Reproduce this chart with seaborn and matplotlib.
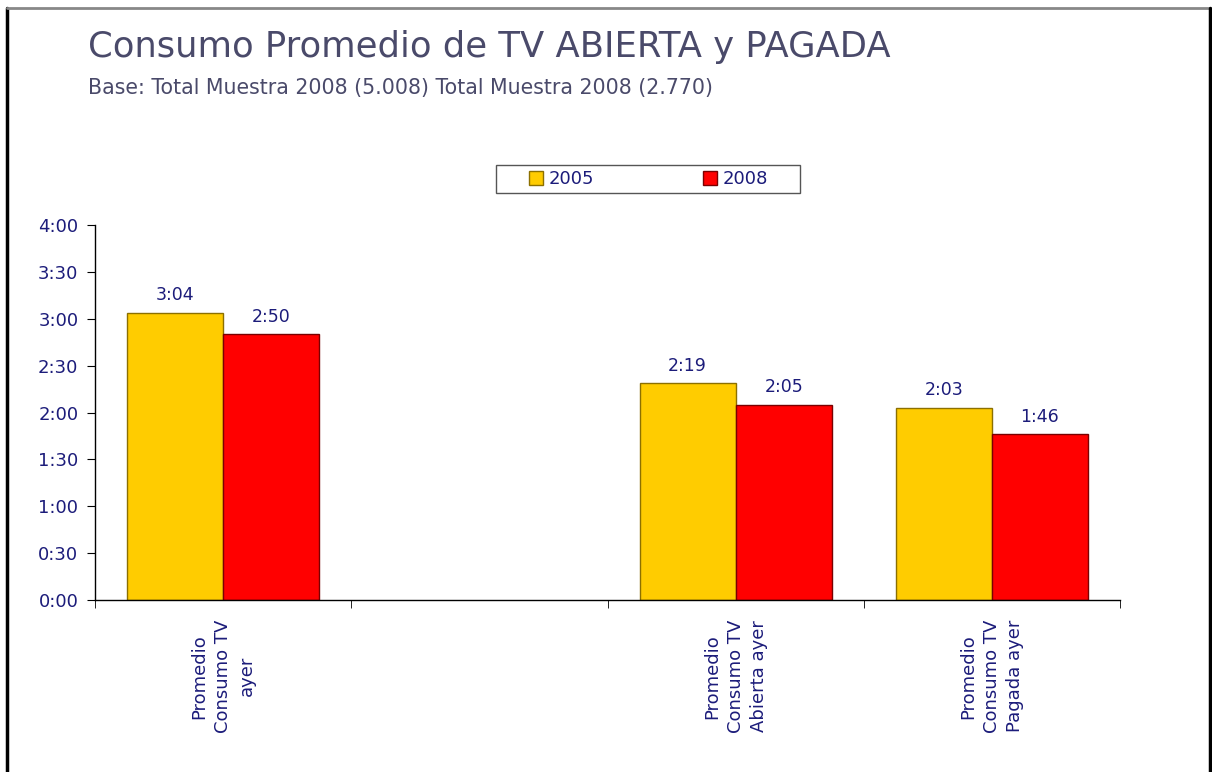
import matplotlib
matplotlib.use("Agg")
import matplotlib.pyplot as plt
import matplotlib.ticker as mticker
from matplotlib.lines import Line2D
from matplotlib.patches import Patch, Rectangle
import pandas as pd
import seaborn as sns

# Chart data (minutes)
categories = [
    "Promedio\nConsumo TV\nayer",
    "",
    "Promedio\nConsumo TV\nAbierta ayer",
    "Promedio\nConsumo TV\nPagada ayer",
]
years = ["2005", "2008"]
minutes_2005 = [184, None, 139, 123]
minutes_2008 = [170, None, 125, 106]

colors = {"2005": "#FFCC00", "2008": "#FF0000"}
edges = {"2005": "#8C7000", "2008": "#7A0000"}
navy = "#1C1C7A"


def fmt_min(v, pos=None):
    v = int(round(v))
    return f"{v // 60}:{v % 60:02d}"


def main():
    rows = []
    for cat, a, b in zip(categories, minutes_2005, minutes_2008):
        rows.append({"cat": cat, "year": "2005", "min": a})
        rows.append({"cat": cat, "year": "2008", "min": b})
    df = pd.DataFrame(rows)

    sns.set_style("white")
    plt.rcParams["font.family"] = ["DejaVu Sans"]

    fig = plt.figure(figsize=(12.12, 7.72), dpi=100)
    ax = fig.add_axes([0.0784, 0.2228, 0.8457, 0.4857])

    sns.barplot(
        data=df, x="cat", y="min", hue="year", order=categories,
        hue_order=years, palette=colors, width=0.75, ax=ax,
        legend=False, errorbar=None, saturation=1,
    )

    # bar edges and value labels
    for cont, yr in zip(ax.containers, years):
        for bar in cont:
            bar.set_edgecolor(edges[yr])
            bar.set_linewidth(1.0)
        labels = [fmt_min(v) if v == v and v > 0 else "" for v in cont.datavalues]
        ax.bar_label(cont, labels=labels, padding=6, fontsize=12.5, color=navy)

    ax.set_ylim(0, 240)
    ax.set_xlim(-0.5, 3.5)
    ax.yaxis.set_major_locator(mticker.MultipleLocator(30))
    ax.yaxis.set_major_formatter(mticker.FuncFormatter(fmt_min))
    ax.tick_params(axis="y", labelsize=13, labelcolor=navy, length=6,
                   color="black", left=True, pad=6)

    # category labels at centers, tick marks at boundaries
    ax.set_xticks(range(len(categories)))
    ax.set_xticklabels(categories, rotation=90, va="top", ha="center",
                       fontsize=13, color=navy, linespacing=1.4)
    ax.tick_params(axis="x", which="major", length=0, pad=14)
    ax.set_xticks([i - 0.5 for i in range(len(categories) + 1)], minor=True)
    ax.tick_params(axis="x", which="minor", length=6, color="black", bottom=True)

    ax.set_xlabel("")
    ax.set_ylabel("")
    sns.despine(ax=ax)
    for s in ("left", "bottom"):
        ax.spines[s].set_color("black")
        ax.spines[s].set_linewidth(1.0)

    handles = [Patch(facecolor=colors[y], edgecolor=edges[y], label=y) for y in years]
    leg = fig.legend(
        handles=handles, loc="center", bbox_to_anchor=(0.535, 0.768), ncol=2,
        frameon=False, fontsize=13, columnspacing=6,
        handlelength=0.8, handleheight=0.8, handletextpad=0.3,
        borderpad=0.3, borderaxespad=0,
    )
    for t in leg.get_texts():
        t.set_color(navy)
    fig.add_artist(Rectangle((0.409, 0.750), 0.2508, 0.0363, fill=False,
                             edgecolor="#555555", lw=1.0,
                             transform=fig.transFigure))

    fig.text(0.0726, 0.939, "Consumo Promedio de TV ABIERTA y PAGADA",
             fontsize=25.5, color="#4A4A6A", va="center", ha="left")
    fig.text(0.0726, 0.886, "Base: Total Muestra 2008 (5.008) Total Muestra 2008 (2.770)",
             fontsize=14.8, color="#4A4A6A", va="center", ha="left")

    # page frame
    fig.add_artist(Line2D([0.0055, 0.0055], [0, 0.99], color="black", lw=2.5,
                          transform=fig.transFigure))
    fig.add_artist(Line2D([0.0055, 0.998], [0.99, 0.99], color="#888888", lw=2,
                          transform=fig.transFigure))
    fig.add_artist(Line2D([0.998, 0.998], [0, 0.99], color="black", lw=2.5,
                          transform=fig.transFigure))

    fig.savefig("out.png", dpi=100, facecolor="white")


if __name__ == "__main__":
    main()
